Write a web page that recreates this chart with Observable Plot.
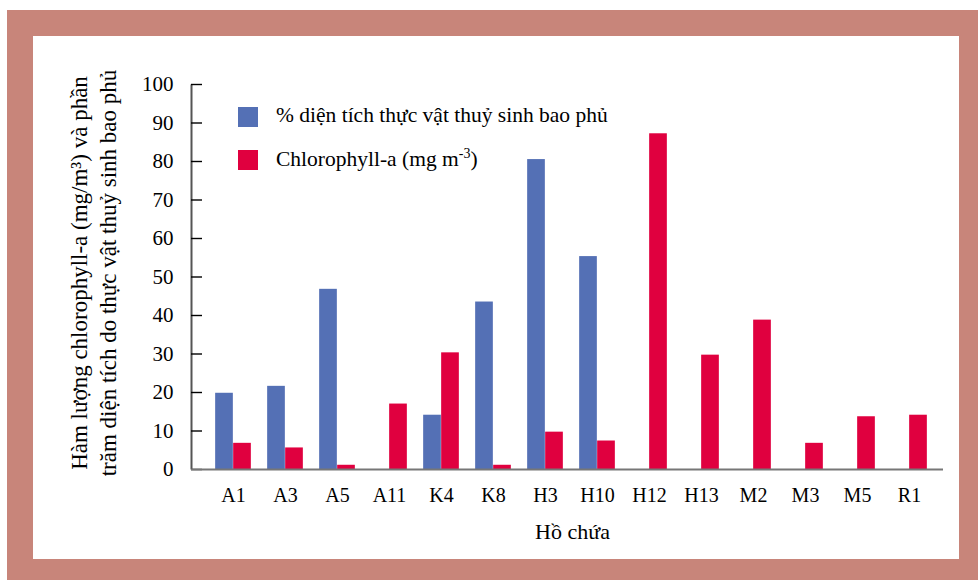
<!DOCTYPE html>
<html>
<head>
<meta charset="utf-8">
<script src="https://cdn.jsdelivr.net/npm/d3@7"></script>
<script src="https://cdn.jsdelivr.net/npm/@observablehq/plot@0.6"></script>
<style>
  body { margin: 0; background: #fff; }
  #wrap { position: relative; width: 978px; height: 580px; background: #fff; overflow: hidden; font-family: "Liberation Serif", "DejaVu Serif", serif; }
  .bg-outer { position: absolute; left: 7px; top: 10px; width: 971px; height: 570px; background: #c8857a; }
  .bg-inner { position: absolute; left: 33px; top: 36px; width: 926px; height: 523px; background: #fff; }
  #chart { position: absolute; left: 0; top: 0; }
  .lg-sw { position: absolute; width: 20px; height: 20px; }
  .lg-tx { position: absolute; font-size: 21.5px; line-height: 1; color: #000; white-space: nowrap; }
  .lg-tx sup { font-size: 14px; line-height: 0; vertical-align: 0; position: relative; top: -0.55em; }
</style>
</head>
<body>
<div id="wrap">
  <div class="bg-outer"></div>
  <div class="bg-inner"></div>
  <div id="chart"></div>
  <div class="lg-sw" style="left:238px;top:107px;background:#5470b5"></div>
  <div class="lg-tx" style="left:276px;top:105px">% diện tích thực vật thuỷ sinh bao phủ</div>
  <div class="lg-sw" style="left:238px;top:150px;background:#e0003f"></div>
  <div class="lg-tx" style="left:276px;top:149px">Chlorophyll-a (mg m<sup>-3</sup>)</div>
</div>
<script>
// ---- Data ----
const categories = ["A1","A3","A5","A11","K4","K8","H3","H10","H12","H13","M2","M3","M5","R1"];
const coverPct   = [19.8, 21.6, 46.8, null, 14.1, 43.5, 80.5, 55.3, null, null, null, null, null, null];
const chlorophyll = [6.8, 5.6, 1.1, 17.0, 30.3, 1.1, 9.7, 7.4, 87.2, 29.7, 38.8, 6.8, 13.7, 14.1];
const yTicks = [0, 10, 20, 30, 40, 50, 60, 70, 80, 90, 100];
const xTitle = "Hồ chứa";
const yTitle = "Hàm lượng chlorophyll-a (mg/m³) và phần\ntrăm diện tích do thực vật thuỷ sinh bao phủ";

const blueRows = categories.map((c, i) => ({c, v: coverPct[i]})).filter(d => d.v != null);
const redRows = categories.map((c, i) => ({c, v: chlorophyll[i]})).filter(d => d.v != null);

// ---- Layout ----
const W = 978, H = 580;
const mL = 191, mR = 35, mT = 84, mB = 111;
const plotW = W - mL - mR, plotH = H - mT - mB;
const xRange = [204.8, 937.2];
const bw = (xRange[1] - xRange[0]) / categories.length;
const half = bw / 2;
const barW = 18;
const serif = "Liberation Serif";

const chart = Plot.plot({
  width: W,
  height: H,
  marginLeft: mL,
  marginRight: mR,
  marginTop: mT,
  marginBottom: mB,
  style: {background: "transparent", fontFamily: serif, color: "#000"},
  x: {type: "band", domain: categories, range: xRange, padding: 0, axis: null},
  y: {domain: [0, 100], axis: null},
  marks: [
    Plot.barY(blueRows, {x: "c", y: "v", fill: "#5470b5", insetLeft: half - barW, insetRight: half}),
    Plot.barY(redRows, {x: "c", y: "v", fill: "#e0003f", insetLeft: half, insetRight: half - barW}),
    // y axis line (left side of frame only)
    Plot.frame({stroke: "#555", strokeWidth: 2, strokeDasharray: `0 ${2 * plotW + plotH} ${plotH}`}),
    // inward tick marks
    Plot.ruleY(yTicks, {y: d => d, insetRight: plotW - 11, stroke: "#000", strokeWidth: 1.4}),
    // baseline
    Plot.ruleY([0], {stroke: "#777", strokeWidth: 2}),
    // y tick labels
    Plot.text(yTicks, {y: d => d, text: d => String(d), frameAnchor: "left", dx: -18, textAnchor: "end", lineAnchor: "middle", fontSize: 21, fontFamily: serif, fill: "#000"}),
    // x tick labels
    Plot.text(categories, {x: d => d, text: d => d, frameAnchor: "bottom", dy: 18, lineAnchor: "top", fontSize: 20, fontFamily: serif, fill: "#000"}),
    Plot.text([yTitle], {frameAnchor: "left", rotate: -90, dx: -99, dy: -4, fontSize: 23, fontFamily: serif, lineHeight: 1.25, textAnchor: "middle", lineAnchor: "middle", fill: "#000"}),
    Plot.text([xTitle], {frameAnchor: "bottom", dx: 5, dy: 62, fontSize: 22, fontFamily: serif, lineAnchor: "middle", fill: "#000"})
  ]
});
document.getElementById("chart").appendChild(chart);
</script>
</body>
</html>
